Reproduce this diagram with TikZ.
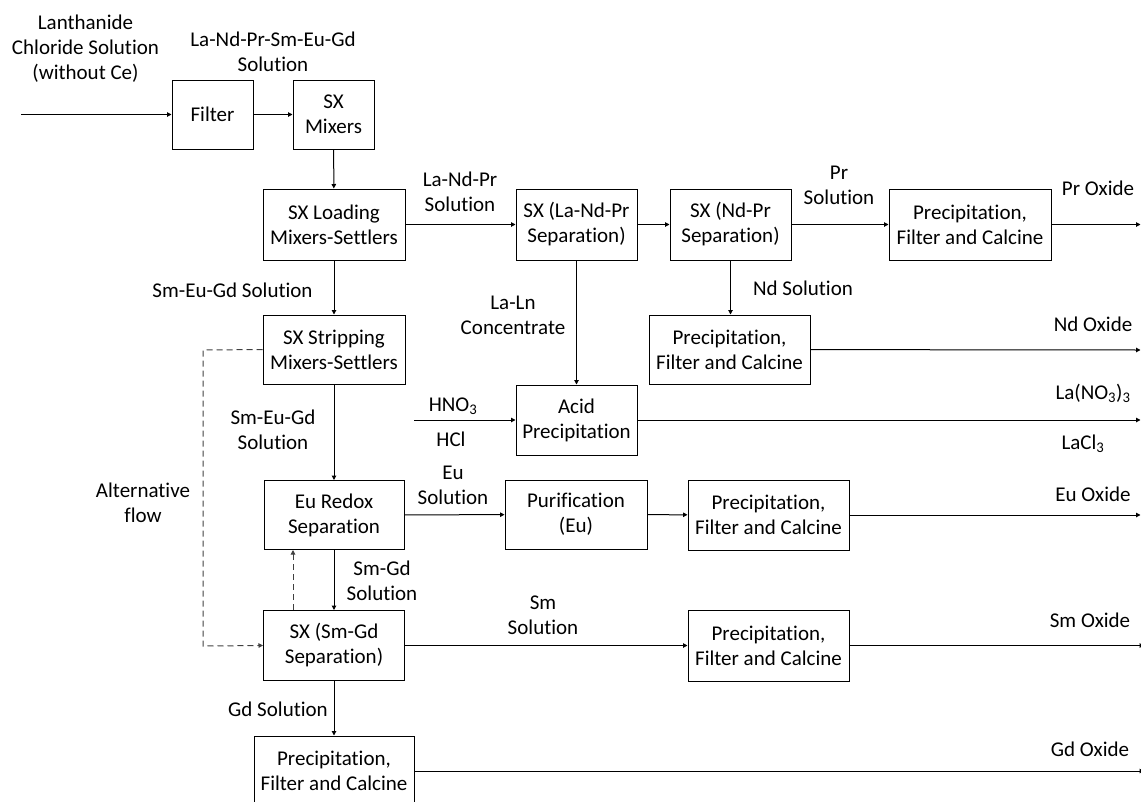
\documentclass[tikz,border=0pt]{standalone}
\usepackage{fontspec}
\setmainfont{Carlito}[RawFeature={-liga;-clig;-calt;-dlig}]
\usetikzlibrary{arrows.meta}
\tikzset{
  box/.style={draw=black, line width=1pt, rectangle, inner sep=0pt, align=center,
    font=\fontsize{21}{25}\selectfont},
  lbl/.style={inner sep=0pt, align=center, font=\fontsize{21}{25}\selectfont},
  flow/.style={line width=1pt, -{Triangle[length=4.5pt,width=4.5pt]}},
  altflow/.style={line width=1pt, draw=black!75, dash pattern=on 6pt off 4pt, -{Triangle[length=4.5pt,width=4.5pt]}},
}
\begin{document}
\begin{tikzpicture}[x=1pt,y=-1pt]
\useasboundingbox (0,0) rectangle (1141,801);
\clip (0,0) rectangle (1141,801);
% boxes
\node[box, minimum width=81pt, minimum height=69pt] (filter) at (212.5,114.5) {Filter};
\node[box, minimum width=81pt, minimum height=69pt] (mixers) at (333.5,114.5) {SX\\Mixers};
\node[box, minimum width=142pt, minimum height=71pt] (loading) at (334,224.5) {SX Loading\\Mixers-Settlers};
\node[box, minimum width=121pt, minimum height=71pt] (lanp) at (576.5,224.5) {SX (La-Nd-Pr\\Separation)};
\node[box, minimum width=121pt, minimum height=71pt] (ndpr) at (730.5,224.5) {SX (Nd-Pr\\Separation)};
\node[box, minimum width=162pt, minimum height=71pt] (prpc) at (970,224.5) {Precipitation,\\Filter and Calcine};
\node[box, minimum width=142pt, minimum height=69pt] (strip) at (334,349.5) {SX Stripping\\Mixers-Settlers};
\node[box, minimum width=161pt, minimum height=69pt] (ndpc) at (729.5,349.5) {Precipitation,\\Filter and Calcine};
\node[box, minimum width=121pt, minimum height=70pt] (acid) at (576.5,420) {Acid\\Precipitation};
\node[box, minimum width=140pt, minimum height=69pt] (redox) at (334,515) {Eu Redox\\Separation};
\node[box, minimum width=142pt, minimum height=69pt] (puri) at (576,514.5) {Purification\\(Eu)};
\node[box, minimum width=161pt, minimum height=70pt] (eupc) at (768.5,515) {Precipitation,\\Filter and Calcine};
\node[box, minimum width=141pt, minimum height=70pt] (smgd) at (334,645.5) {SX (Sm-Gd\\Separation)};
\node[box, minimum width=161pt, minimum height=71pt] (smpc) at (768.5,645.5) {Precipitation,\\Filter and Calcine};
\node[box, minimum width=160pt, minimum height=70pt] (gdpc) at (334,771) {Precipitation,\\Filter and Calcine};
% free ends
\coordinate (in) at (21,114.5);
\coordinate (acidin) at (414,420);
\coordinate (prout) at (1140.5,224.5);
\coordinate (ndout) at (1140.5,350);
\coordinate (laout) at (1140.5,420);
\coordinate (euout) at (1140.5,515);
\coordinate (smout) at (1144,645.5);
\coordinate (gdout) at (1144,771);
\coordinate (alt1) at (203,350);
\coordinate (alt2) at (203,646);
% connectors
\draw[flow] (in) -- (filter);
\draw[flow] (filter) -- (mixers);
\draw[flow] (mixers) -- (loading);
\draw[flow] (loading) -- (lanp);
\draw[flow] (lanp) -- (ndpr);
\draw[flow] (ndpr) -- (prpc);
\draw[flow] (prpc) -- (prout);
\draw[flow] (loading) -- (strip);
\draw[flow] (ndpr.south) -- (ndpr.south |- ndpc.north);
\draw[flow] (ndpc) -- (ndout);
\draw[flow] (lanp) -- (acid);
\draw[flow] (acidin) -- (acid);
\draw[flow] (acid) -- (laout);
\draw[flow] (strip) -- (redox);
\draw[flow] (redox) -- (puri);
\draw[flow] (puri) -- (eupc);
\draw[flow] (eupc) -- (euout);
\draw[flow] (redox) -- (smgd);
\draw[altflow] ([xshift=-41pt]smgd.north) -- ([xshift=-41pt]smgd.north |- redox.south);
\draw[altflow] (strip.west) -- (alt1) -- (alt2) -- (smgd.west);
\draw[flow] (smgd) -- (smpc);
\draw[flow] (smpc) -- (smout);
\draw[flow] (smgd) -- (gdpc);
\draw[flow] (gdpc) -- (gdout);
% labels
\node[lbl] (l1) at (85.5,49) {Lanthanide\\Chloride Solution\\(without Ce)};
\node[lbl] (l2) at (273,51.5) {La-Nd-Pr-Sm-Eu-Gd\\Solution};
\node[lbl] (l3) at (460,191.5) {La-Nd-Pr\\Solution};
\node[lbl] (l4) at (839,185.5) {Pr\\Solution};
\node[lbl] (l5) at (1098,188) {Pr Oxide};
\node[lbl] (l6) at (232.5,290) {Sm-Eu-Gd Solution};
\node[lbl] (l7) at (513,315.5) {La-Ln\\Concentrate};
\node[lbl] (l8) at (803,288) {Nd Solution};
\node[lbl] (l9) at (1093,324) {Nd Oxide};
\node[lbl] (l10) at (273,429.5) {Sm-Eu-Gd\\Solution};
\node[lbl] (l11) at (453,406) {HNO\textsubscript{3}};
\node[lbl] (l12) at (451,439) {HCl};
\node[lbl] (l13) at (1093,393) {La(NO\textsubscript{3})\textsubscript{3}};
\node[lbl] (l14) at (1083,444) {LaCl\textsubscript{3}};
\node[lbl] (l15) at (453,485.5) {Eu\\Solution};
\node[lbl] (l16) at (1093,494) {Eu Oxide};
\node[lbl] (l17) at (143,502.5) {Alternative\\flow};
\node[lbl] (l18) at (382,580.5) {Sm-Gd\\Solution};
\node[lbl] (l19) at (543,615.5) {Sm\\Solution};
\node[lbl] (l20) at (1090,620) {Sm Oxide};
\node[lbl] (l21) at (278,709) {Gd Solution};
\node[lbl] (l22) at (1090,749) {Gd Oxide};
\end{tikzpicture}
\end{document}
